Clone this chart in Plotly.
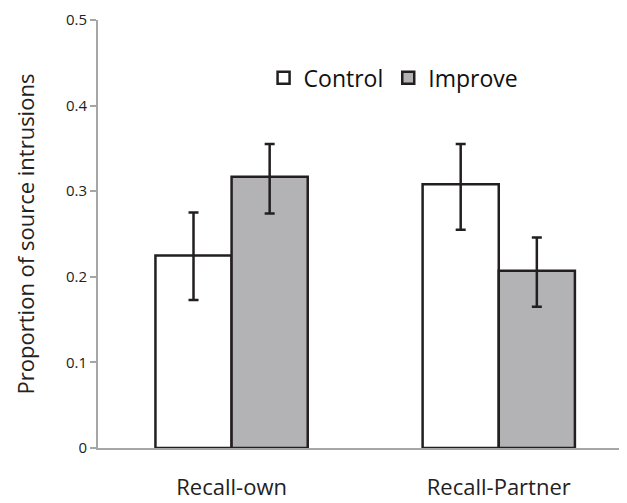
import plotly.graph_objects as go

categories = ["Recall-own", "Recall-Partner"]
control = [0.225, 0.308]
control_err_plus = [0.050, 0.047]
control_err_minus = [0.052, 0.053]
improve = [0.317, 0.207]
improve_err_plus = [0.038, 0.039]
improve_err_minus = [0.043, 0.042]
y_ticks = [0, 0.1, 0.2, 0.3, 0.4, 0.5]
y_tick_labels = ["0", "0.1", "0.2", "0.3", "0.4", "0.5"]

FONT = "Open Sans"
DARK = "#231f20"

fig = go.Figure()
fig.add_trace(go.Bar(
    name="Control", x=categories, y=control,
    marker=dict(color="#ffffff", line=dict(color=DARK, width=2.5)),
    error_y=dict(type="data", symmetric=False, array=control_err_plus,
                 arrayminus=control_err_minus, color=DARK, thickness=2.5, width=5),
))
fig.add_trace(go.Bar(
    name="Improve", x=categories, y=improve,
    marker=dict(color="#b3b3b6", line=dict(color=DARK, width=2.5)),
    error_y=dict(type="data", symmetric=False, array=improve_err_plus,
                 arrayminus=improve_err_minus, color=DARK, thickness=2.5, width=5),
))

fig.update_layout(
    width=627, height=503,
    margin=dict(l=90, r=8, t=12, b=63, autoexpand=False),
    paper_bgcolor="white", plot_bgcolor="white",
    barmode="group", bargap=0.43, bargroupgap=0,
    font=dict(family=FONT, color="#222222"),
    showlegend=True,
    legend=dict(orientation="h", x=0.313, y=0.865, xanchor="left", yanchor="middle",
                font=dict(size=23, family=FONT, color="#111111"),
                itemwidth=30, traceorder="normal", bgcolor="rgba(0,0,0,0)"),
    xaxis=dict(range=[-0.5, 1.48], showline=True, linecolor="#a6a6a6", linewidth=2,
               ticks="", showgrid=False, zeroline=False, automargin=False,
               ticklabelstandoff=19,
               tickfont=dict(size=22, family=FONT, color="#222222")),
    yaxis=dict(range=[0, 0.5], tickvals=y_ticks, ticktext=y_tick_labels,
               showline=True, linecolor="#a6a6a6", linewidth=2,
               ticks="outside", ticklen=6, tickcolor="#a6a6a6", tickwidth=2,
               showgrid=False, zeroline=False, automargin=False,
               ticklabeloverflow="allow",
               tickfont=dict(size=15, family=FONT, color="#222222"),
               title=dict(text="Proportion of source intrusions",
                          font=dict(size=22, family=FONT, color="#222222"), standoff=25)),
)

fig.write_html("out.html")
